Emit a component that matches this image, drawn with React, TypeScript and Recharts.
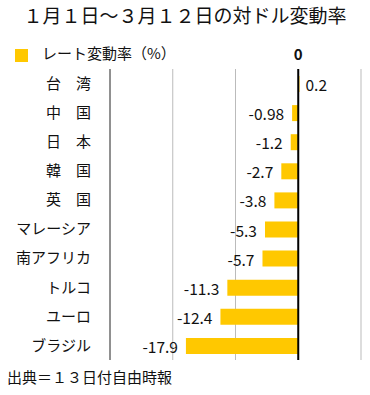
import React from "react";
import { BarChart, Bar, XAxis, YAxis, CartesianGrid, ReferenceLine, LabelList } from "recharts";

const categories = ["台　湾", "中　国", "日　本", "韓　国", "英　国", "マレーシア", "南アフリカ", "トルコ", "ユーロ", "ブラジル"];
const rates = [0.2, -0.98, -1.2, -2.7, -3.8, -5.3, -5.7, -11.3, -12.4, -17.9];
const rateLabels = ["0.2", "-0.98", "-1.2", "-2.7", "-3.8", "-5.3", "-5.7", "-11.3", "-12.4", "-17.9"];
const xTicks = [-30, -20, -10, 0, 10];

const data = categories.map((c, i) => ({ name: c, rate: rates[i], label: rateLabels[i] }));

const FONT = '"Noto Sans CJK JP", "Noto Sans", sans-serif';
const YELLOW = "#FFC800";

const ValueLabel = (props: any) => {
  const { x, y, width, height, index } = props;
  const v = rates[index];
  const left = Math.min(x, x + width);
  const right = Math.max(x, x + width);
  const cy = y + height / 2;
  if (v < 0) {
    return (
      <text x={left - 8} y={cy} textAnchor="end" dominantBaseline="central" fontSize={15.5} fill="#111" fontFamily={FONT}>
        {rateLabels[index]}
      </text>
    );
  }
  return (
    <text x={right + 6} y={cy} textAnchor="start" dominantBaseline="central" fontSize={15.5} fill="#111" fontFamily={FONT}>
      {rateLabels[index]}
    </text>
  );
};

export default function App() {
  return (
    <div style={{ position: "absolute", left: 0, top: 0, width: 370, height: 395, background: "#fff", fontFamily: FONT }}>
      <div style={{ position: "absolute", left: 0, top: 3, width: 370, textAlign: "center", fontSize: 19, lineHeight: "24px", color: "#111" }}>
        １月１日～３月１２日の対ドル変動率
      </div>
      <div style={{ position: "absolute", left: 15, top: 49, width: 13, height: 13, background: YELLOW }} />
      <div style={{ position: "absolute", left: 42, top: 43, fontSize: 15, lineHeight: "20px", color: "#111" }}>
        レート変動率（%）
      </div>
      <BarChart
        width={370}
        height={395}
        data={data}
        layout="vertical"
        margin={{ top: 49, right: 9, bottom: 35, left: 8 }}
      >
        <CartesianGrid horizontal={false} stroke="#bbbbbb" strokeWidth={1} />
        <XAxis
          type="number"
          orientation="top"
          domain={[-30, 10]}
          ticks={xTicks}
          height={20}
          axisLine={false}
          tickLine={false}
          tickSize={0}
          tickMargin={9}
          tickFormatter={(v: number) => (v === 0 ? "0" : "")}
          tick={{ fontSize: 15, fill: "#111", fontFamily: FONT, fontWeight: 600 }}
        />
        <YAxis
          type="category"
          dataKey="name"
          width={102}
          axisLine={{ stroke: "#444", strokeWidth: 1 }}
          tickLine={false}
          tickSize={0}
          tickMargin={19}
          interval={0}
          tick={{ fontSize: 15, fill: "#111", fontFamily: FONT }}
        />
        <Bar dataKey="rate" fill={YELLOW} barSize={16} isAnimationActive={false}>
          <LabelList dataKey="rate" content={ValueLabel} />
        </Bar>
        <ReferenceLine x={0} stroke="#000" strokeWidth={2} />
      </BarChart>
      <div style={{ position: "absolute", left: 7, top: 366, fontSize: 15, lineHeight: "22px", color: "#111" }}>
        出典＝１３日付自由時報
      </div>
    </div>
  );
}
